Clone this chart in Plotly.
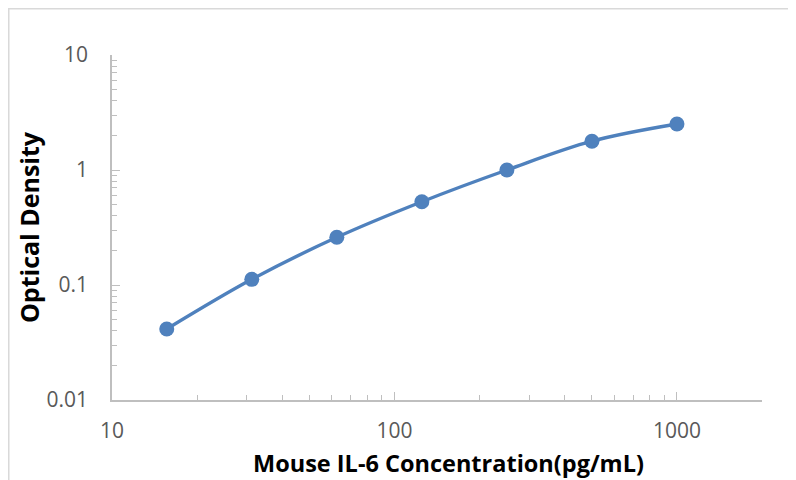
import plotly.graph_objects as go

concentration = [15.625, 31.25, 62.5, 125, 250, 500, 1000]
optical_density = [0.0414, 0.112, 0.260, 0.530, 1.0, 1.78, 2.51]

x_tick_vals = [10, 100, 1000]
x_tick_text = ["10", "100", "1000"]
x_minor_vals = [20, 30, 40, 50, 60, 70, 80, 90,
                200, 300, 400, 500, 600, 700, 800, 900, 2000]
y_tick_vals = [0.01, 0.1, 1, 10]
y_tick_text = ["0.01", "0.1", "1", "10"]
y_minor_vals = [0.02, 0.03, 0.04, 0.05, 0.06, 0.07, 0.08, 0.09,
                0.2, 0.3, 0.4, 0.5, 0.6, 0.7, 0.8, 0.9,
                2, 3, 4, 5, 6, 7, 8, 9]

line_color = "#4F81BD"
axis_color = "#BFBFBF"
tick_font = dict(family="'Open Sans', sans-serif", color="#595959", size=21)
title_font = dict(family="'Open Sans', sans-serif", color="black", size=25)
xtitle_font = dict(family="'Open Sans', sans-serif", color="black", size=23.5)

fig = go.Figure()
fig.add_trace(go.Scatter(
    x=concentration, y=optical_density,
    mode="lines+markers",
    line=dict(color=line_color, width=3.4, shape="spline", smoothing=1.0),
    marker=dict(color=line_color, size=15),
    showlegend=False,
))

fig.update_layout(
    width=796, height=480,
    margin=dict(l=104, r=42, t=47, b=88),
    paper_bgcolor="white", plot_bgcolor="white",
    font=tick_font,
    shapes=[dict(type="rect", xref="paper", yref="paper",
                 x0=-0.1588, x1=1.2, y0=-0.4, y1=1.134,
                 line=dict(color="#D9D9D9", width=1.5), layer="below")],
    annotations=[dict(text="<b>Mouse IL-6 Concentration(pg/mL)</b>",
                      xref="paper", yref="paper", x=0.518, y=-0.183,
                      xanchor="center", yanchor="middle", showarrow=False,
                      font=xtitle_font)],
)

fig.update_xaxes(
    type="log", range=[1, 3.30103],
    tickvals=x_tick_vals, ticktext=x_tick_text, tickfont=tick_font,
    showgrid=False, zeroline=False,
    showline=True, linecolor=axis_color, linewidth=1.5,
    ticks="inside", ticklen=8, tickcolor=axis_color, tickwidth=1.2,
    minor=dict(ticks="inside", ticklen=5, tickcolor=axis_color, tickwidth=1.2,
               tickvals=x_minor_vals, showgrid=False),
    ticklabelstandoff=11,
)
fig.update_yaxes(
    type="log", range=[-2, 1],
    tickvals=y_tick_vals, ticktext=y_tick_text, tickfont=tick_font,
    showgrid=False, zeroline=False,
    showline=True, linecolor=axis_color, linewidth=1.5,
    ticks="inside", ticklen=8, tickcolor=axis_color, tickwidth=1.2,
    minor=dict(ticks="inside", ticklen=5, tickcolor=axis_color, tickwidth=1.2,
               tickvals=y_minor_vals, showgrid=False),
    ticklabelstandoff=18,
    title=dict(text="<b>Optical Density</b>",
               font=title_font, standoff=0),
)

fig.write_html("out.html")
